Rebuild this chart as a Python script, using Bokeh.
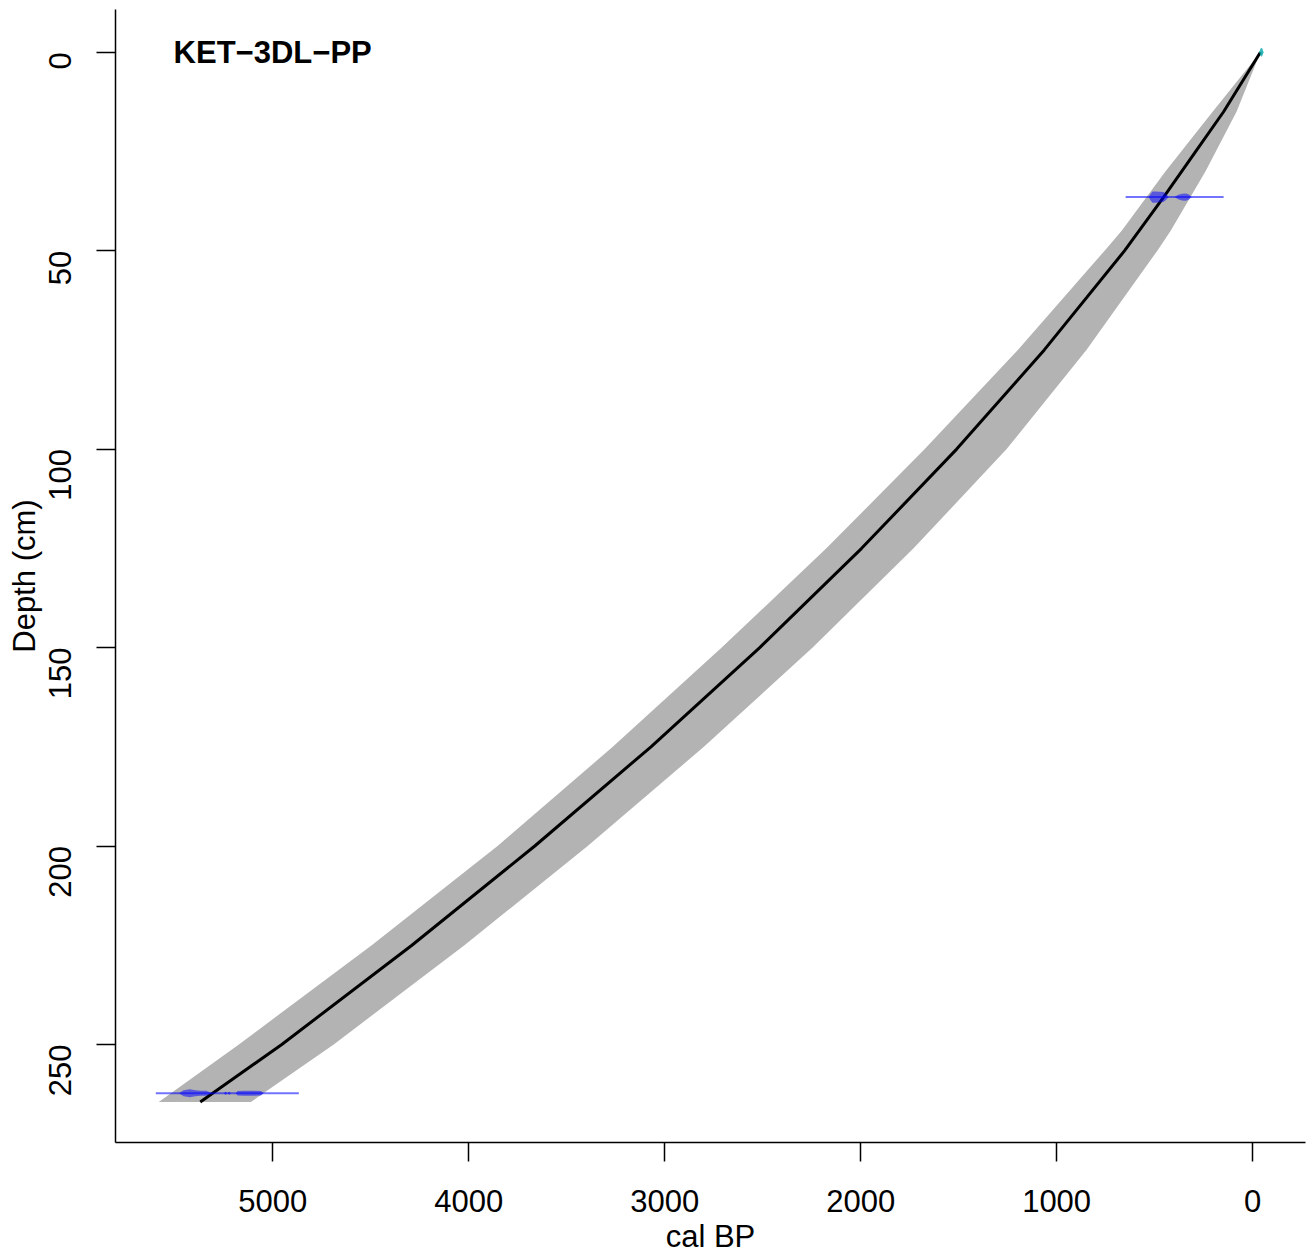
import math
from bokeh.plotting import figure
from bokeh.models import Range1d, FixedTicker, Label
from bokeh.embed import file_html
from bokeh.resources import INLINE

# ---- data ----
core_name = "KET−3DL−PP"
x_ticks = [0, 1000, 2000, 3000, 4000, 5000]
y_ticks = [0, 50, 100, 150, 200, 250]

# mean age-depth curve
mean_depth = [0, 15, 25, 36.5, 50, 75, 100, 125, 150, 175, 200, 225, 250, 264.5]
mean_age = [-40, 148, 290, 454, 653, 1063, 1510, 1995, 2515, 3070, 3663, 4290, 4954, 5370]

# 95% envelope
band_depth = [0, 15, 30, 45, 50, 75, 100, 125, 150, 175, 200, 225, 250, 264.5]
band_old = [-40, 204, 444, 668, 755, 1198, 1673, 2175, 2709, 3265, 3853, 4495, 5173, 5582]
band_young = [-40, 82, 240, 418, 486, 848, 1255, 1730, 2245, 2800, 3393, 4022, 4689, 5112]

# dated levels: depth, full range, calibrated distribution (age, relative density)
date1_depth = 36.5
date1_range = [148, 648]
date1_age = [531, 520, 511, 495, 475, 455, 440, 429, 398, 380, 360, 340, 325, 311]
date1_dens = [0, 0.6, 1.0, 1.0, 0.95, 0.9, 0.5, 0, 0, 0.4, 0.6, 0.64, 0.45, 0]

date2_depth = 262.3
date2_range = [4867, 5597]
date2_age = [5478, 5455, 5423, 5395, 5370, 5340, 5308, 5250, 5240, 5232, 5222, 5214,
             5189, 5180, 5150, 5100, 5060, 5047]
date2_dens = [0, 0.55, 0.72, 0.55, 0.45, 0.45, 0, 0, 0.3, 0, 0.3, 0,
              0, 0.4, 0.45, 0.45, 0.4, 0]

surface_depth = 0.0
surface_age = [-34, -40, -45, -50, -56]
surface_dens = [0, 0.6, 0.8, 0.6, 0]

DENS_SCALE = 1.4  # cm of half-height for density 1

FONT = "Liberation Sans"

p = figure(width=1310, height=1256,
           x_range=Range1d(5802.6, -270), y_range=Range1d(274.7, -10.76),
           output_backend="svg", toolbar_location=None,
           min_border_left=115, min_border_right=5, min_border_top=9, min_border_bottom=114)
p.grid.visible = False
p.outline_line_color = None
p.background_fill_color = "white"
p.border_fill_color = "white"

# envelope
p.patch(band_old + band_young[::-1], band_depth + band_depth[::-1],
        fill_color="#B3B3B3", line_color=None)
# mean line
p.line(mean_age, mean_depth, line_color="black", line_width=3)


def blob(ages, dens, depth):
    xs = list(ages) + list(ages)[::-1]
    ys = [depth - d * DENS_SCALE for d in dens] + [depth + d * DENS_SCALE for d in dens][::-1]
    return xs, ys


for rng, ages, dens, depth in [(date1_range, date1_age, date1_dens, date1_depth),
                               (date2_range, date2_age, date2_dens, date2_depth)]:
    p.line(rng, [depth, depth], line_color="blue", line_alpha=0.55, line_width=2)
    xs, ys = blob(ages, dens, depth)
    p.patch(xs, ys, fill_color="blue", fill_alpha=0.5, line_color=None)

xs, ys = blob(surface_age, surface_dens, surface_depth)
p.patch(xs, ys, fill_color="#00A8A8", fill_alpha=0.8, line_color=None)

# title label
p.add_layout(Label(x=5506, y=0, text=core_name, text_font=FONT, text_font_size="31px",
                   text_font_style="bold", text_baseline="middle", text_align="left",
                   text_color="black"))

for ax in (p.xaxis[0], p.yaxis[0]):
    ax.axis_line_color = "black"
    ax.axis_line_width = 1.5
    ax.major_tick_line_color = "black"
    ax.major_tick_line_width = 1.5
    ax.major_tick_out = 19
    ax.major_tick_in = 0
    ax.minor_tick_line_color = None
    ax.major_label_text_font = FONT
    ax.major_label_text_font_size = "31px"
    ax.major_label_text_color = "black"
    ax.axis_label_text_font = FONT
    ax.axis_label_text_font_size = "31px"
    ax.axis_label_text_font_style = "normal"
    ax.axis_label_text_color = "black"

p.xaxis[0].ticker = FixedTicker(ticks=x_ticks)
p.yaxis[0].ticker = FixedTicker(ticks=y_ticks)
p.xaxis[0].axis_label = "cal BP"
p.yaxis[0].axis_label = "Depth (cm)"
p.xaxis[0].major_label_standoff = 28
p.xaxis[0].axis_label_standoff = 4
p.yaxis[0].major_label_standoff = 36
p.yaxis[0].axis_label_standoff = -6
p.yaxis[0].major_label_orientation = math.pi / 2

open("out.html", "w").write(file_html(p, INLINE))
